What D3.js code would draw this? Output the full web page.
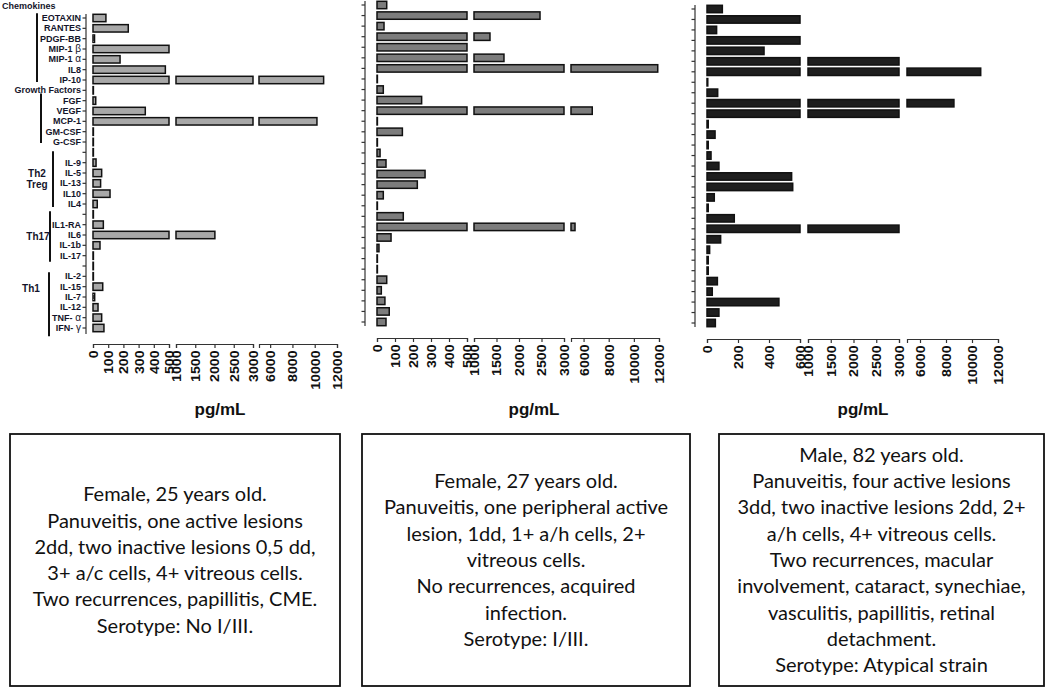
<!DOCTYPE html>
<html><head><meta charset="utf-8">
<script src="https://cdn.jsdelivr.net/npm/d3@7/dist/d3.min.js"></script>
<style>body{margin:0;background:#fff}svg{display:block}</style>
</head><body>
<svg id="c" width="1050" height="691"></svg>
<script>
// ---------- data ----------
const rowLabels = ["EOTAXIN","RANTES","PDGF-BB","MIP-1|β","MIP-1|α","IL8","IP-10","Growth Factors","FGF","VEGF","MCP-1","GM-CSF","G-CSF","","IL-9","IL-5","IL-13","IL10","IL4","","IL1-RA","IL6","IL-1b","IL-17","","IL-2","IL-15","IL-7","IL-12","TNF-|α","IFN-|γ"];
const patient1 = [85,232,10,750,178,476,10800,0,18,344,10200,2,2,0,20,57,50,112,28,0,68,2010,46,2,0,2,64,11,33,57,72];
const patient2 = [54,2467,39,1355,750,1666,11900,0,35,248,6690,0,141,0,17,50,267,224,35,0,146,5320,78,11,0,0,54,24,44,68,50];
const patient3 = [99,800,62,800,368,4000,10670,5,69,8610,4000,8,52,8,26,77,546,553,47,8,176,4000,88,17,8,8,67,34,464,77,54];
const segDomains = [[0,500],[1000,3000],[5000,12000]];
const segDomains3 = [[0,600],[1000,3000],[5000,12000]];
const ticksSeg1 = [0,100,200,300,400,500];
const ticksSeg1p3 = [0,200,400,600];
const ticksSeg2 = [1000,1500,2000,2500,3000];
const ticksSeg3 = [6000,8000,10000,12000];
const groupNames = ["Chemokines","","Th2\nTreg","Th17","Th1"];
const groupRows = [[0,6],[7,12],[13,18],[19,23],[24,30]];
const axisTitle = "pg/mL";
const box1 = ["Female, 25 years old.","Panuveitis, one active lesions","2dd, two inactive lesions 0,5 dd,","3+ a/c cells, 4+ vitreous cells.","Two recurrences, papillitis, CME.","Serotype: No I/III."];
const box2 = ["Female, 27 years old.","Panuveitis, one peripheral active","lesion, 1dd, 1+ a/h cells, 2+","vitreous cells.","No recurrences, acquired","infection.","Serotype: I/III."];
const box3 = ["Male, 82 years old.","Panuveitis, four active lesions","3dd, two inactive lesions 2dd, 2+","a/h cells, 4+ vitreous cells.","Two recurrences, macular","involvement, cataract, synechiae,","vasculitis, papillitis, retinal","detachment.","Serotype: Atypical strain"];

// ---------- layout ----------
const svg = d3.select("#c");
const FONT = "'Liberation Sans', Arial, sans-serif";
const panels = [
  {vals: patient1, fill:"#a8a8a8", yAxisX:86, rows:[18,328], axisSpan:[14,334], xAxisY:344,
   segs:[[93,169],[176,253],[259,337]], doms:segDomains, t1:ticksSeg1, titleX:220},
  {vals: patient2, fill:"#7c7c7c", yAxisX:365, rows:[5,322], axisSpan:[1,326], xAxisY:338,
   segs:[[377,467],[474,564],[571,659]], doms:segDomains, t1:ticksSeg1, titleX:534},
  {vals: patient3, fill:"#1e1e1e", yAxisX:695, rows:[9,323], axisSpan:[5,327], xAxisY:339,
   segs:[[707,800],[808,899],[907,998]], doms:segDomains3, t1:ticksSeg1p3, titleX:863}
];

panels.forEach((p, pi) => {
  const g = svg.append("g");
  const y = d3.scaleLinear().domain([0, rowLabels.length-1]).range(p.rows);
  const scales = p.segs.map((r,i) => d3.scaleLinear().domain(p.doms[i]).range(r));

  // y axis
  g.append("line").attr("x1",p.yAxisX).attr("x2",p.yAxisX)
    .attr("y1",p.axisSpan[0]).attr("y2",p.axisSpan[1])
    .attr("stroke","#333").attr("stroke-width",1.2);
  g.selectAll("line.yt").data(d3.range(rowLabels.length)).join("line")
    .attr("class","yt").attr("x1",p.yAxisX-3.5).attr("x2",p.yAxisX)
    .attr("y1",d=>y(d)).attr("y2",d=>y(d)).attr("stroke","#333").attr("stroke-width",1.2);

  // bars
  const bh = 7.4;
  p.vals.forEach((v, i) => {
    scales.forEach((s, si) => {
      const [lo, hi] = s.domain();
      if (si > 0 && v <= lo) return;
      const x0 = s(lo), x1 = s(Math.min(v, hi));
      g.append("rect").attr("x", x0).attr("y", y(i)-bh/2)
        .attr("width", Math.max(x1-x0, 0.4)).attr("height", bh)
        .attr("fill", p.fill).attr("stroke", "#111").attr("stroke-width", 1.5);
    });
  });

  // x axis segments
  const tickSets = [p.t1, ticksSeg2, ticksSeg3];
  scales.forEach((s, si) => {
    const ax = d3.axisBottom(s).tickValues(tickSets[si]).tickSize(4).tickSizeOuter(4)
      .tickFormat(d3.format("d"));
    const ag = g.append("g").attr("transform", `translate(0,${p.xAxisY})`).call(ax);
    ag.select(".domain").attr("stroke","#333").attr("stroke-width",1.2);
    ag.selectAll(".tick line").attr("stroke","#333").attr("stroke-width",1.2);
    ag.selectAll(".tick text")
      .attr("transform","rotate(-90) scale(1.15,1)").attr("x",-6.5/1.15).attr("y",0).attr("dy","0.36em")
      .attr("text-anchor","end").attr("font-family",FONT).attr("font-weight","bold")
      .attr("font-size",12.3).attr("fill","#111");
  });

  g.append("text").attr("x", p.titleX).attr("y", 415).attr("text-anchor","middle")
    .attr("font-family",FONT).attr("font-weight","bold").attr("font-size",17).attr("fill","#111")
    .text(axisTitle);

  // row labels (first panel only)
  if (pi === 0) {
    rowLabels.forEach((lab, i) => {
      if (!lab) return;
      const parts = lab.split("|");
      const t = g.append("text").attr("x", 81).attr("y", y(i)).attr("dy","0.35em")
        .attr("text-anchor","end").attr("font-family",FONT).attr("font-weight","bold")
        .attr("font-size",9).attr("fill","#14142a");
      t.append("tspan").text(parts[0]);
      if (parts[1]) t.append("tspan").attr("font-weight","normal").attr("font-size",10).text(" " + parts[1]);
    });
    // group brackets
    const pads = [[-0.45,0.2],[0.3,0.1],[-0.1,0.3],[-0.3,0.6],[0.6,0.8]];
    const bx = [37,41,53,50,49];
    groupRows.forEach((r, gi) => {
      g.append("line").attr("x1",bx[gi]).attr("x2",bx[gi])
        .attr("y1", y(r[0]+pads[gi][0])).attr("y2", y(r[1]+pads[gi][1]))
        .attr("stroke","#111").attr("stroke-width",2);
    });
    // group titles
    g.append("text").attr("x",2).attr("y",y(-1.2)).attr("dy","0.35em")
      .attr("font-family",FONT).attr("font-weight","bold").attr("font-size",9).attr("fill","#14142a")
      .text(groupNames[0]);
    const gl = [[2,37,[15.0,16.1]],[3,38,[21.1]],[4,31,[26.2]]];
    gl.forEach(([gi, x, rws]) => {
      groupNames[gi].split("\n").forEach((ln, k) => {
        g.append("text").attr("x",x).attr("y",y(rws[k])).attr("dy","0.35em")
          .attr("text-anchor","middle").attr("font-family",FONT).attr("font-weight","bold")
          .attr("font-size",10).attr("fill","#14142a").text(ln);
      });
    });
  }
});

// ---------- text boxes ----------
const boxes = [{lines:box1, x:10, w:330},{lines:box2, x:362, w:328},{lines:box3, x:719, w:325}];
const boxTop = 434, boxH = 252, lh = 26.3;
boxes.forEach(b => {
  svg.append("rect").attr("x",b.x).attr("y",boxTop).attr("width",b.w).attr("height",boxH)
    .attr("fill","none").attr("stroke","#111").attr("stroke-width",1.8);
  const cy = boxTop + boxH/2;
  const n = b.lines.length;
  b.lines.forEach((ln, i) => {
    svg.append("text").attr("x", b.x + b.w/2).attr("y", cy + (i-(n-1)/2)*lh).attr("dy","0.35em")
      .attr("text-anchor","middle").attr("font-family","Lato, 'Open Sans', sans-serif")
      .attr("font-size",20).attr("fill","#111").text(ln);
  });
});
</script>
</body></html>
